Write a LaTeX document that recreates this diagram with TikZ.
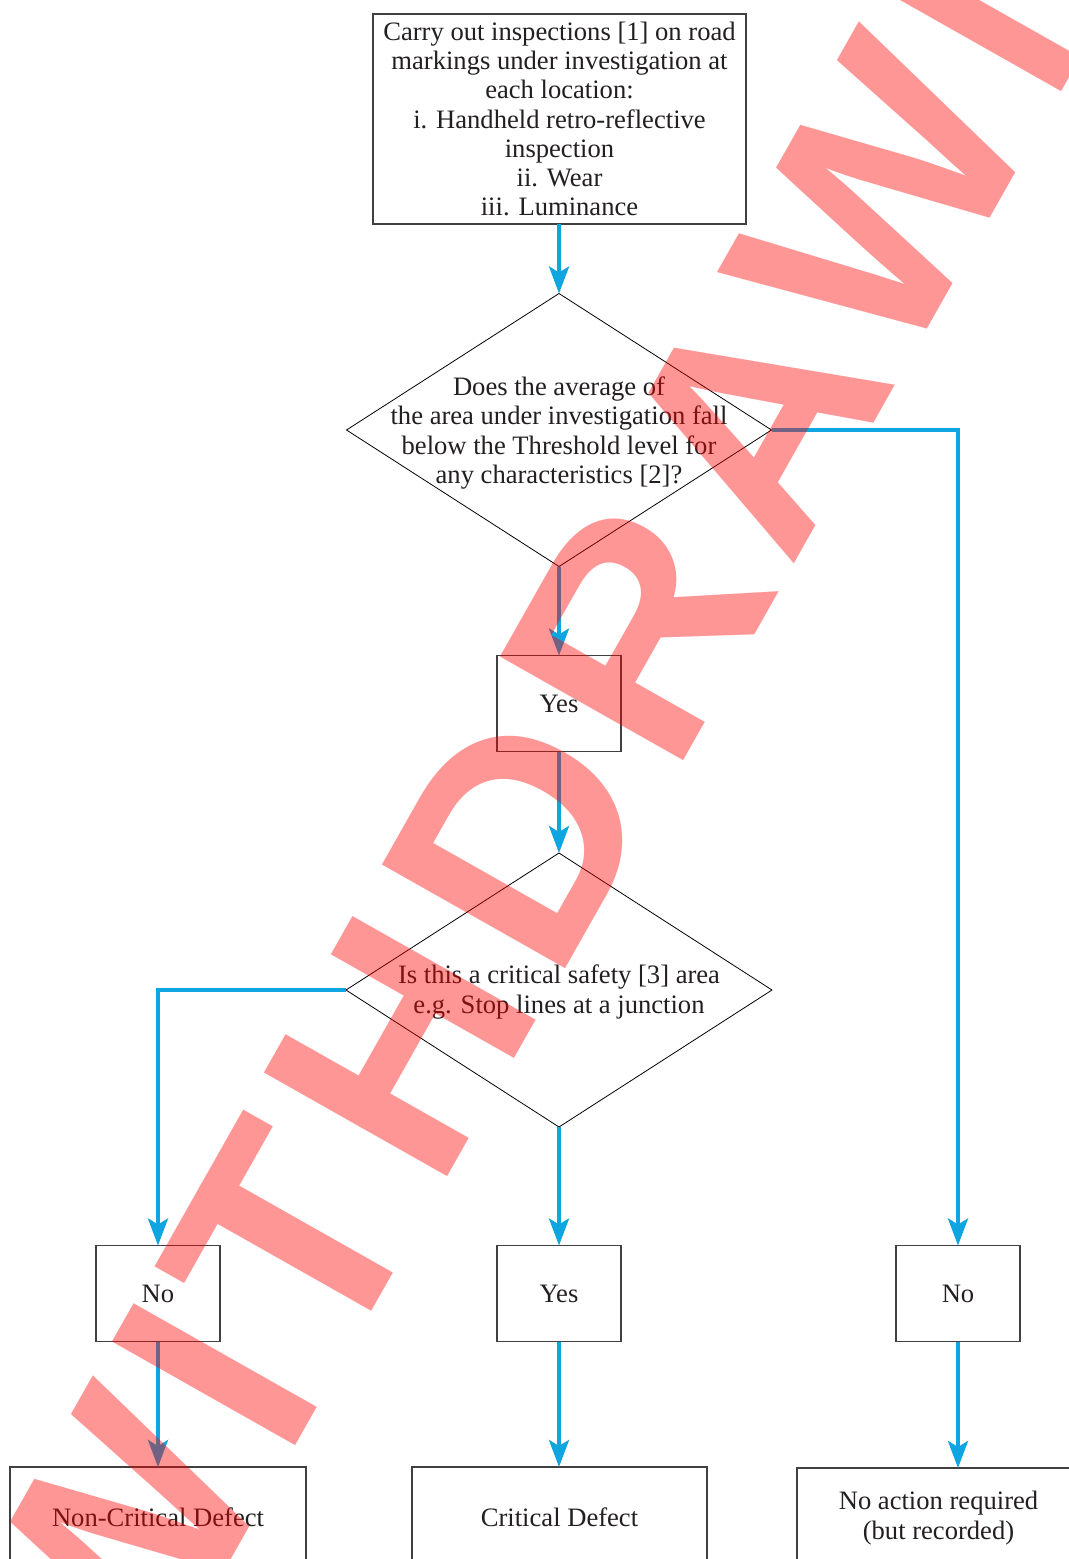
\documentclass[tikz,border=0pt]{standalone}
\usepackage{fontspec}
\setmainfont{Liberation Serif}
\newfontfamily\stampfont[LetterSpace=6.0]{Liberation Sans}
\usetikzlibrary{shapes.geometric,arrows.meta}
\definecolor{flowblue}{RGB}{14,165,224}
\definecolor{inkgray}{RGB}{35,31,32}
\definecolor{framegray}{RGB}{64,64,64}
\begin{document}
\begin{tikzpicture}[x=0.5pt,y=-0.5pt,
  txt/.style={font=\fontsize{13.3}{14.6}\selectfont, text=inkgray, align=center, inner sep=0pt},
  box/.style={txt, draw=framegray, line width=0.6pt, rectangle, outer sep=0pt},
  smallbox/.style={box, minimum width=62pt, minimum height=48pt},
  endbox/.style={box, minimum height=50pt},
  decision/.style={draw=black, line width=0.4pt, diamond, inner sep=0pt, outer sep=0pt},
  flow/.style={draw=flowblue, line width=2pt, miter limit=10,
    -{Stealth[length=13.5pt,width=10pt,inset=3pt]}}
]
\path[use as bounding box, clip] (0,0) rectangle (1069,1559);
\fill[white] (0,0) rectangle (1069,1559);

% inspection step
\node[box, minimum width=186.5pt, minimum height=105pt] (inspect) at (559.5,119)
  {Carry out inspections [1] on road\\markings under investigation at\\each location:\\i. Handheld retro-reflective\\inspection\\ii. Wear\\iii. Luminance};

% first decision
\node[decision, minimum width=212.5pt, minimum height=136.5pt] (thresh) at (559,430) {};
\node[txt] (threshtext) at ([yshift=-1.5pt]thresh.center)
  {Does the average of\\the area under investigation fall\\below the Threshold level for\\any characteristics [2]?};

\node[smallbox] (yesA) at (559,703.5) {Yes};

% second decision
\node[decision, minimum width=213pt, minimum height=137pt] (crit) at (559,990) {};
\node[txt] (crittext) at ([yshift=-1pt]crit.center)
  {Is this a critical safety [3] area\\e.g. Stop lines at a junction};

% answers
\node[smallbox] (noL) at (158,1293.5) {No};
\node[smallbox] (yesB) at (559,1293.5) {Yes};
\node[smallbox] (noR) at (958,1293.5) {No};

% outcomes
\node[endbox, minimum width=148pt] (noncrit) at (158,1517) {Non-Critical Defect};
\node[endbox, minimum width=147.5pt] (critdef) at (559.5,1517) {Critical Defect};
\node[endbox, minimum width=141.5pt] (noaction) at (938.5,1518) {No action required\\(but recorded)};

% connectors
\draw[flow] (inspect) -- (thresh.north);
\draw[flow] (thresh.south) -- (yesA);
\draw[flow] (yesA) -- (crit.north);
\draw[flow] (thresh.east) -| (noR.north);
\draw[flow] (crit.west) -| (noL.north);
\draw[flow] (crit.south) -- (yesB.north);
\draw[flow] (noL) -- (noncrit);
\draw[flow] (yesB.south) -- (yesB.south |- critdef.north);
\draw[flow] (noR.south) -- (noR.south |- noaction.north);

% stamp
\node[rotate=60.5, anchor=base west, inner sep=0pt, text=red, text opacity=0.41,
  font=\stampfont\bfseries\fontsize{153}{153}\selectfont] (stamp) at (134,1731) {WITHDRAWN};
\end{tikzpicture}
\end{document}
